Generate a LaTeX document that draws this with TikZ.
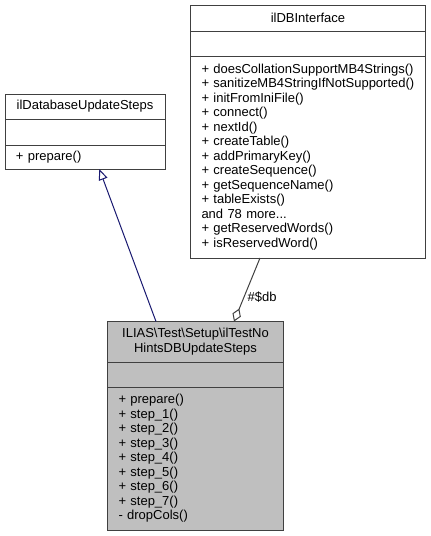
\documentclass[tikz,border=0pt]{standalone}
\usepackage{fontspec}
\setmainfont{Liberation Sans}
\usetikzlibrary{arrows.meta,positioning}
\definecolor{edgegray}{HTML}{404040}
\definecolor{navy}{HTML}{191970}
\definecolor{fillgray}{HTML}{BFBFBF}
\begin{document}
\begin{tikzpicture}[x=1pt,y=-1pt,node distance=0pt,
  part/.style={draw=edgegray,line width=1pt,outer sep=0pt,inner xsep=11pt,inner ysep=0pt,font=\fontsize{13}{14.5}\selectfont},
  head/.style={part,align=center,anchor=north west},
  body/.style={part,align=left}]
\useasboundingbox (0,0) rectangle (431,536);
\node[head,minimum width=235pt,minimum height=26.5pt] (db) at (190.5,5) {ilDBInterface};
\node[part,minimum width=235pt,minimum height=24.5pt,below=of db] (db-attr) {};
\node[body,text width=213pt,minimum height=202pt,below=of db-attr] (db-ops) {+ doesCollationSupportMB4Strings()\\+ sanitizeMB4StringIfNotSupported()\\+ initFromIniFile()\\+ connect()\\+ nextId()\\+ createTable()\\+ addPrimaryKey()\\+ createSequence()\\+ getSequenceName()\\+ tableExists()\\and 78 more...\\+ getReservedWords()\\+ isReservedWord()};
\node[head,minimum width=160pt,minimum height=25pt] (upd) at (5,94) {ilDatabaseUpdateSteps};
\node[part,minimum width=160pt,minimum height=26pt,below=of upd] (upd-attr) {};
\node[body,text width=138pt,minimum height=24pt,below=of upd-attr] (upd-ops) {+ prepare()};
\node[head,fill=fillgray,minimum width=176pt,minimum height=40.5pt] (main) at (107.5,321.5) {ILIAS\textbackslash Test\textbackslash Setup\textbackslash ilTestNo\\HintsDBUpdateSteps};
\node[part,fill=fillgray,minimum width=176pt,minimum height=25pt,below=of main] (main-attr) {};
\node[body,fill=fillgray,text width=154pt,minimum height=143pt,below=of main-attr] (main-ops) {+ prepare()\\+ step\_1()\\+ step\_2()\\+ step\_3()\\+ step\_4()\\+ step\_5()\\+ step\_6()\\+ step\_7()\\- dropCols()};
\draw[navy,line width=1pt,-{Triangle[open,length=11pt,width=9pt]}] ([xshift=48.5pt]main.north west) -- ([xshift=94.3pt]upd-ops.south west);
\draw[edgegray,line width=1pt,{Diamond[open,length=14pt,width=9pt]}-] ([xshift=126.5pt]main.north west) -- node[right,pos=0.38,text=black,font=\fontsize{13}{14.5}\selectfont] {\#\$db} ([xshift=69.5pt]db-ops.south west);
\end{tikzpicture}
\end{document}
